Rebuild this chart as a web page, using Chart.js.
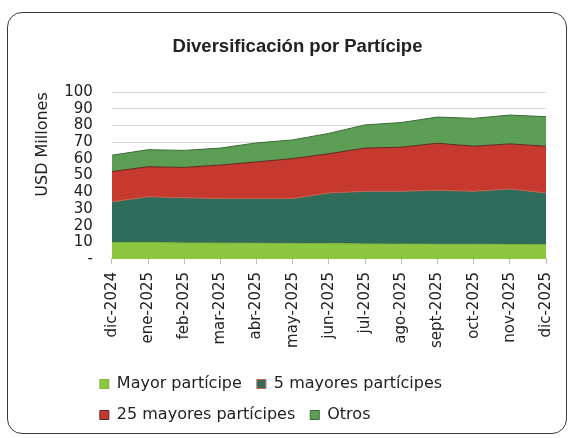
<!DOCTYPE html>
<html>
<head>
<meta charset="utf-8">
<script src="https://cdn.jsdelivr.net/npm/chart.js@4.4.0/dist/chart.umd.min.js"></script>
<style>
body { margin: 0; background: #fff; }
#box { position: absolute; left: 7px; top: 12px; width: 558px; height: 420px; border: 1.5px solid #3a3a3a; border-radius: 15px; overflow: hidden; }
#myChart { display: block; }
</style>
</head>
<body>
<div id="box"><canvas id="myChart" width="558" height="420"></canvas></div>
<script>
// meses del periodo
var labels = ['dic-2024', 'ene-2025', 'feb-2025', 'mar-2025', 'abr-2025', 'may-2025', 'jun-2025',
    'jul-2025', 'ago-2025', 'sept-2025', 'oct-2025', 'nov-2025', 'dic-2025'];

// USD millones por grupo de participes
var mayorParticipe = [9.8, 9.8, 9.6, 9.5, 9.4, 9.3, 9.2, 9.0, 8.9, 8.8, 8.8, 8.7, 8.5];
var cincoMayores = [24.5, 27.5, 27.1, 26.8, 26.9, 27.0, 30.4, 31.6, 31.7, 32.4, 31.8, 33.3, 31.1];
var veinticincoMayores = [18.1, 18.0, 18.2, 20.0, 21.9, 23.9, 23.5, 25.9, 26.4, 28.2, 27.0, 27.0, 28.0];
var otros = [9.8, 10.2, 10.2, 10.2, 11.4, 11.2, 12.2, 13.9, 14.8, 15.7, 16.7, 17.3, 17.7];

var ctx = document.getElementById('myChart').getContext('2d');
var fuente = "'DejaVu Sans', sans-serif";

// leyenda un poco a la izquierda del area del grafico, titulo un poco a la derecha
var ajustes = {
    id: 'ajustes',
    afterLayout: function (chart) {
        chart.legend.left -= 27;
        chart.legend.right -= 27;
        chart.titleBlock.left += 8;
        chart.titleBlock.right += 8;
    }
};

var myChart = new Chart(ctx, {
    type: 'line',
    data: {
        labels: labels,
        datasets: [{
            label: 'Mayor partícipe',
            data: mayorParticipe,
            backgroundColor: '#8dc640',
            borderColor: '#7fb43a',
            borderWidth: 1,
            fill: 'origin'
        }, {
            label: '5 mayores partícipes',
            data: cincoMayores,
            backgroundColor: '#2f6c5a',
            borderColor: '#c8604e',
            borderWidth: 1,
            fill: '-1'
        }, {
            label: '25 mayores partícipes',
            data: veinticincoMayores,
            backgroundColor: '#c5392e',
            borderColor: '#5a2a1e',
            borderWidth: 1,
            fill: '-1'
        }, {
            label: 'Otros',
            data: otros,
            backgroundColor: '#5d9e56',
            borderColor: '#3a6a33',
            borderWidth: 1,
            fill: '-1'
        }]
    },
    plugins: [ajustes],
    options: {
        responsive: false,
        animation: false,
        elements: {
            point: { radius: 0 },
            line: { tension: 0 }
        },
        layout: {
            padding: { top: 10, left: 25, right: 20, bottom: 0 }
        },
        plugins: {
            title: {
                display: true,
                text: 'Diversificación por Partícipe',
                color: '#222',
                font: { family: "'Liberation Sans', sans-serif", size: 18.5, weight: 'bold' },
                padding: { top: 13, bottom: 34 }
            },
            legend: {
                position: 'bottom',
                align: 'start',
                fullSize: false,
                labels: {
                    color: '#222',
                    boxWidth: 9,
                    boxHeight: 9,
                    padding: 15,
                    font: { family: fuente, size: 16 }
                }
            },
            tooltip: { enabled: false }
        },
        scales: {
            x: {
                grid: {
                    drawOnChartArea: false,
                    drawTicks: true,
                    tickLength: 5,
                    color: '#bbb'
                },
                border: { display: true, color: '#ccc' },
                ticks: {
                    color: '#222',
                    maxRotation: 90,
                    minRotation: 90,
                    autoSkip: false,
                    padding: 8,
                    font: { family: fuente, size: 15 }
                },
                afterFit: function (scale) {
                    scale.height += 5;
                    scale.paddingRight = 4;
                }
            },
            y: {
                stacked: true,
                min: 0,
                max: 100,
                grid: { color: '#d9d9d9', drawTicks: false },
                border: { display: false },
                ticks: {
                    stepSize: 10,
                    autoSkip: false,
                    color: '#222',
                    padding: 19,
                    font: { family: fuente, size: 15 },
                    callback: function (v) { return v === 0 ? '-' : v; }
                },
                title: {
                    display: true,
                    text: 'USD Millones',
                    align: 'end',
                    color: '#222',
                    padding: 0,
                    font: { family: fuente, size: 16 }
                },
                afterFit: function (scale) {
                    scale.width -= 7;
                }
            }
        }
    }
});
</script>
</body>
</html>
